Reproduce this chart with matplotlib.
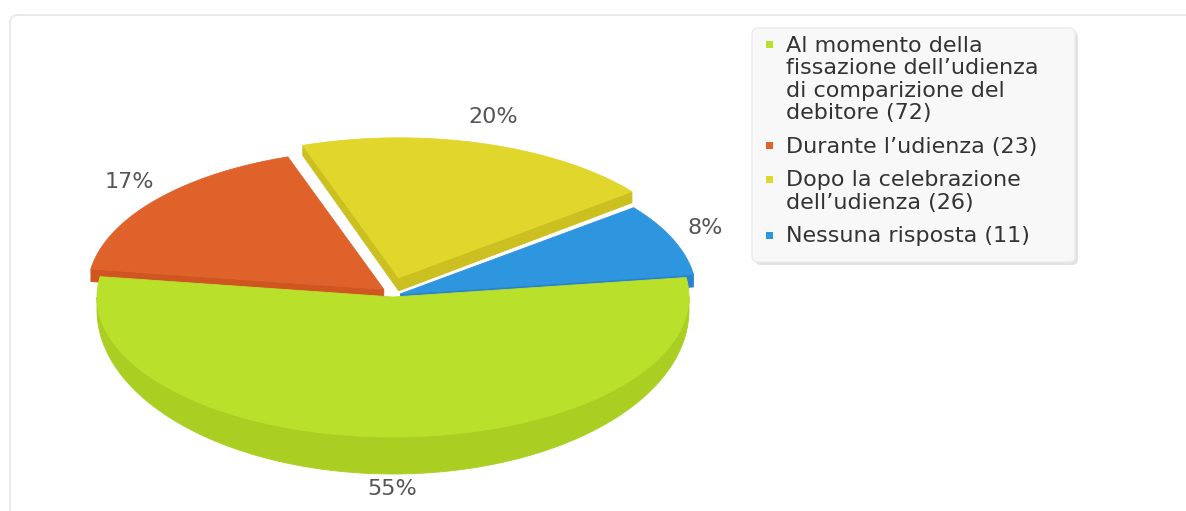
import numpy as np
import matplotlib
matplotlib.use("Agg")
import matplotlib.pyplot as plt
from matplotlib.patches import Polygon, FancyBboxPatch, Rectangle

# data
labels = ["Al momento della\nfissazione dell\u2019udienza\ndi comparizione del\ndebitore",
          "Durante l\u2019udienza",
          "Dopo la celebrazione\ndell\u2019udienza",
          "Nessuna risposta"]
counts = [72, 23, 26, 11]
colors = ["#b9e02b", "#e0622b", "#e0d62c", "#2e95df"]
side_colors = ["#aacf22", "#cf5521", "#cbc020", "#2a84cc"]
explode = [0, 12, 20, 8]  # pixels

# pie geometry (pixel space)
cx, cy = 393, 297
a, b = 296, 140
start = 368.0  # slices run clockwise from here

def depth(uy):
    # thicker at front, thinner at back (fake perspective)
    return 13 + 24 * max(0.0, -uy) - 3 * max(0.0, uy)

def pt(phi, r, z, off):
    t = np.radians(phi)
    ux, uy = r * np.cos(t), r * np.sin(t)
    return (cx + a * ux + off[0], cy - b * uy + off[1] + z * depth(uy))

fig = plt.figure(figsize=(11.86, 5.11), dpi=100)
ax = fig.add_axes([0, 0, 1, 1])
ax.set_xlim(0, 1186)
ax.set_ylim(511, 0)
ax.axis("off")

# outer card
ax.add_patch(FancyBboxPatch((10, 15), 1300, 600, boxstyle="round,pad=0,rounding_size=8",
                            facecolor="white", edgecolor="#e6e6e6", lw=1.2, zorder=0))

total = float(sum(counts))
fracs = [c / total for c in counts]

# slice angle ranges (s < e in math angle), laid out clockwise
slices = []
e_ang = start
for i, f in enumerate(fracs):
    s_ang = e_ang - f * 360.0
    slices.append((i, s_ang, e_ang))
    e_ang = s_ang

def offset(i, s, e):
    bis = np.radians((s + e) / 2)
    return (explode[i] * np.cos(bis), -explode[i] * np.sin(bis))

# draw back to front
order = sorted(slices, key=lambda t: -np.sin(np.radians((t[1] + t[2]) / 2)))
for i, s, e in order:
    off = offset(i, s, e)
    apex_top = (cx + off[0], cy + off[1])
    apex_bot = (cx + off[0], cy + off[1] + depth(0))
    kw = dict(closed=True, lw=0.6)
    # radial walls
    if np.cos(np.radians(s)) > 0:
        poly = [apex_top, pt(s, 1, 0, off), pt(s, 1, 1, off), apex_bot]
        ax.add_patch(Polygon(poly, facecolor=side_colors[i], edgecolor=side_colors[i], zorder=2, **kw))
    if np.cos(np.radians(e)) < 0:
        poly = [apex_top, pt(e, 1, 0, off), pt(e, 1, 1, off), apex_bot]
        ax.add_patch(Polygon(poly, facecolor=side_colors[i], edgecolor=side_colors[i], zorder=2, **kw))
    # outer curved wall (front half only)
    for k in range(-1, 2):
        lo = max(s, 180 + 360 * k)
        hi = min(e, 360 + 360 * k)
        if hi > lo:
            ang = np.linspace(lo, hi, 120)
            top = [pt(p, 1, 0, off) for p in ang]
            bot = [pt(p, 1, 1, off) for p in ang[::-1]]
            ax.add_patch(Polygon(top + bot, facecolor=side_colors[i], edgecolor=side_colors[i], zorder=2, **kw))
    # top face
    ang = np.linspace(s, e, 200)
    poly = [apex_top] + [pt(p, 1, 0, off) for p in ang]
    ax.add_patch(Polygon(poly, facecolor=colors[i], edgecolor=colors[i], zorder=2, **kw))

    # percentage label
    t = np.radians((s + e) / 2)
    lx = cx + off[0] + (a + 35) * np.cos(t)
    ly = cy + off[1] - (b + 28) * np.sin(t) + 24 * max(0.0, -np.sin(t))
    ax.text(lx, ly, "%d%%" % round(fracs[i] * 100), ha="center", va="center",
            fontsize=16, color="#555555", zorder=5)

# legend box
ax.add_patch(FancyBboxPatch((755, 31), 323, 234, boxstyle="round,pad=0,rounding_size=6",
                            facecolor="#e2e2e2", edgecolor="none", zorder=3))
ax.add_patch(FancyBboxPatch((752, 28), 323, 234, boxstyle="round,pad=0,rounding_size=6",
                            facecolor="#f8f8f8", edgecolor="#ececec", lw=1, zorder=4))
y = 52
line_step = 22.5
for i, lab in enumerate(labels):
    lines = (lab + " (%d)" % counts[i]).split("\n")
    ax.add_patch(Rectangle((765.5, y - 10.5), 7, 7, facecolor=colors[i], edgecolor="none", zorder=5))
    for j, ln in enumerate(lines):
        ax.text(786, y + j * line_step, ln, ha="left", va="baseline", fontsize=16,
                color="#333333", zorder=5)
    y += line_step * (len(lines) - 1) + 33.5

fig.savefig("out.png", dpi=100)
